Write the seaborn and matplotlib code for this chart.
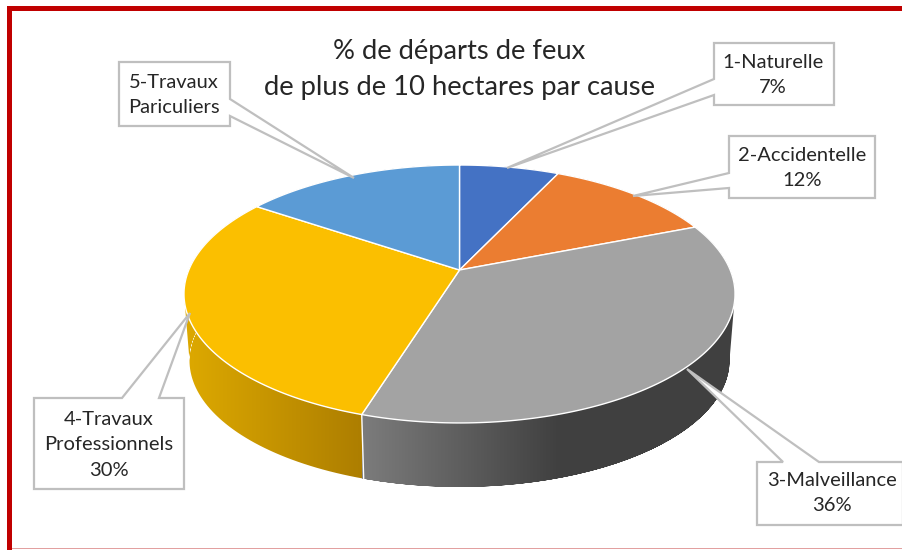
import numpy as np
import seaborn as sns
import matplotlib
matplotlib.use("Agg")
import matplotlib.pyplot as plt
from matplotlib.colors import LinearSegmentedColormap
from matplotlib.patches import Polygon, Rectangle

categories = ["1-Naturelle", "2-Accidentelle", "3-Malveillance", "4-Travaux\nProfessionnels", "5-Travaux\nPariculiers"]
values = [7, 12, 35.8, 29.7, 15.5]
show_pct = [True, True, True, True, False]
slice_colors = ["#4472C4", "#EB7D31", "#A3A3A3", "#FBBF00", "#5B9BD5"]
title_lines = ["% de départs de feux", "de plus de 10 hectares par cause"]

# side shading, colours at the left and right x limit of the ramp
side_shade = {2: ("#7C7C7C", "#404040", 362, 560), 3: ("#DCA800", "#AD7E00", 190, 362)}

# callout outlines in picture pixels, pointer tip included
boxes = [
    dict(pts=[(714, 43), (834, 43), (834, 105), (714, 105), (714, 95), (507, 168), (714, 79)], txt=(773, 75)),
    dict(pts=[(729, 136), (875, 136), (875, 198), (729, 198), (729, 188), (633, 196), (729, 173)], txt=(802, 168)),
    dict(pts=[(757, 462), (783, 462), (687, 369), (819, 462), (903, 462), (903, 525), (757, 525)], txt=(832, 493)),
    dict(pts=[(34, 398), (122, 398), (190, 313), (159, 398), (184, 398), (184, 489), (34, 489)], txt=(109, 445)),
    dict(pts=[(119, 62), (230, 62), (230, 99), (354, 178), (230, 116), (230, 126), (119, 126)], txt=(174, 95)),
]

CX, CY = 459.5, 270
A, B, K = 270.7, 124.5, 0.186
DEPTH, SHRINK = 67, 0.98


def project(theta, scale=1.0, dy=0.0):
    # unit circle angle in degrees to picture pixels, with a bit of perspective
    t = np.radians(theta)
    u, v = np.cos(t), np.sin(t)
    w = 1 + K * v
    return CX + scale * A * u / w, CY + dy - scale * B * v / w


sns.set_theme(style="white")
plt.rcParams["font.family"] = ["Lato", "DejaVu Sans"]
palette = sns.color_palette(slice_colors)

fig, ax = plt.subplots(figsize=(9.02, 5.5), dpi=100)
fig.subplots_adjust(left=0, right=1, bottom=0, top=1)

wedges, _ = ax.pie(values, startangle=90, counterclock=False, colors=palette)
ax.set_aspect("auto")
ax.axis("off")

# only the front of the wall shows, between the left and right extremes of the top face
grid = np.linspace(90, 450, 3601)
gx = project(grid)[0]
left_th = grid[np.argmin(gx)]
right_th = grid[np.argmax(gx)]

# side wall first, a gradient image clipped to the wall outline
for i, w in enumerate(wedges):
    if i not in side_shade:
        continue
    c0, c1, x0, x1 = side_shade[i]
    # pie angles run counterclockwise here, so the wall goes from theta1 to the silhouette
    if i == 3:
        lo, hi = w.theta1, left_th
    else:
        lo, hi = w.theta1, right_th + 360
    th = np.linspace(lo, hi, 300)
    tx, ty = project(th)
    bx, by = project(th, SHRINK, DEPTH)
    outline = list(zip(tx, ty)) + list(zip(bx[::-1], by[::-1]))
    patch = Polygon(outline, facecolor="none", edgecolor="none", zorder=2)
    ax.add_patch(patch)
    cmap = LinearSegmentedColormap.from_list(f"side{i}", [c0, c1])
    img = ax.imshow(np.linspace(0, 1, 256)[None, :], extent=(x0, x1, 550, 0), cmap=cmap,
                    aspect="auto", zorder=2, interpolation="bilinear")
    img.set_clip_path(patch)
    # carry the end colour on past the ramp
    if i == 2:
        ax.imshow([[1, 1]], extent=(x1, 760, 550, 0), cmap=cmap, vmin=0, vmax=1,
                  aspect="auto", zorder=2).set_clip_path(patch)
    else:
        ax.imshow([[0, 0]], extent=(170, x0, 550, 0), cmap=cmap, vmin=0, vmax=1,
                  aspect="auto", zorder=2).set_clip_path(patch)
    # white seam where the two walls meet
    if i == 2:
        xa, ya = project(w.theta1)
        xd, yd = project(w.theta1, SHRINK, DEPTH)
        ax.plot([xa, xd], [ya, yd], color="white", lw=1, zorder=3)

# top face, the pie wedges put through the perspective
for i, w in enumerate(wedges):
    th = np.linspace(w.theta1, w.theta2, 200)
    xs, ys = project(th)
    pts = [(CX, CY)] + list(zip(xs, ys))
    ax.add_patch(Polygon(pts, facecolor=palette[i], edgecolor="white", lw=1, zorder=4))
    w.remove()

# callouts
for i, b in enumerate(boxes):
    ax.add_patch(Polygon(b["pts"], facecolor="white", edgecolor="#BFBFBF", lw=1.6, zorder=5))
    label = categories[i]
    if show_pct[i]:
        label = f"{label}\n{values[i]:.0f}%"
    ax.text(b["txt"][0], b["txt"][1], label, ha="center", va="center", fontsize=14.5,
            color="#262626", linespacing=1.6, zorder=6)

ax.text(459.5, 51, title_lines[0], ha="center", va="center", fontsize=19.7, color="#262626", zorder=6)
ax.text(459, 87, title_lines[1], ha="center", va="center", fontsize=19.7, color="#262626", zorder=6)

# red frame of the original screenshot
ax.add_patch(Rectangle((7, 6), 895, 5, facecolor="#C00000", edgecolor="none", zorder=7))
ax.add_patch(Rectangle((7, 6), 5, 544, facecolor="#C00000", edgecolor="none", zorder=7))
ax.add_patch(Rectangle((12, 548), 890, 1.2, facecolor="#E2A0A0", edgecolor="none", zorder=7))

ax.set_xlim(0, 902)
ax.set_ylim(550, 0)
fig.savefig("out.png", dpi=100, facecolor="white")
